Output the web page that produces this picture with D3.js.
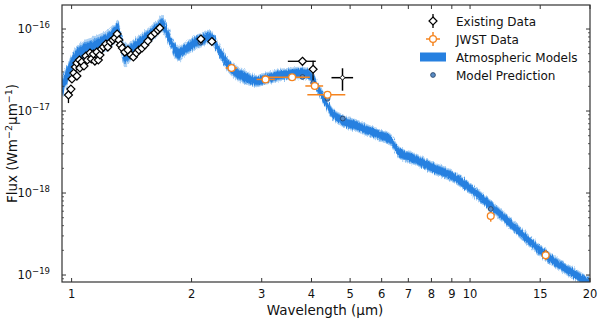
<!DOCTYPE html>
<html>
<head>
<meta charset="utf-8">
<script src="https://d3js.org/d3.v7.min.js"></script>
<style>
    body { margin: 0; background: #fff; }
    text { font-family: "DejaVu Sans", sans-serif; fill: #111; }
</style>
</head>
<body>
<div id="space"></div>
<script>

//Model spectrum (wavelength in um, flux in W m^-2 um^-1, spread in dex)
var bandWave = [0.946, 0.968, 0.990, 1.013, 1.037, 1.067, 1.099, 1.137, 1.178, 1.219,
    1.255, 1.284, 1.307, 1.322, 1.337, 1.360, 1.392, 1.433, 1.484, 1.536,
    1.590, 1.646, 1.685, 1.714, 1.745, 1.785, 1.826, 1.858, 1.913, 1.981,
    2.050, 2.123, 2.198, 2.249, 2.301, 2.355, 2.425, 2.495, 2.598, 2.721,
    2.834, 2.934, 3.038, 3.181, 3.332, 3.529, 3.739, 3.915, 4.030, 4.148,
    4.270, 4.395, 4.524, 4.711, 4.906, 5.137, 5.506, 5.935, 6.216, 6.362,
    6.511, 6.663, 7.060, 7.352, 8.062, 8.896, 9.98, 11.20, 12.36, 13.72,
    15.48, 16.79, 18.10, 20.0];
var bandFlux = [1.96e-17, 2.53e-17, 3.35e-17, 4.19e-17, 4.82e-17, 5.39e-17, 5.70e-17, 6.03e-17, 6.56e-17, 7.14e-17,
    7.99e-17, 9.19e-17, 1.00e-16, 8.21e-17, 6.03e-17, 4.82e-17, 5.10e-17, 5.86e-17, 6.75e-17, 7.77e-17,
    8.94e-17, 1.03e-16, 1.15e-16, 1.03e-16, 8.45e-17, 6.56e-17, 5.39e-17, 4.96e-17, 5.55e-17, 6.20e-17,
    6.94e-17, 7.34e-17, 7.99e-17, 7.77e-17, 6.56e-17, 5.24e-17, 4.19e-17, 3.44e-17, 2.91e-17, 2.60e-17,
    2.39e-17, 2.32e-17, 2.46e-17, 2.60e-17, 2.75e-17, 2.83e-17, 2.91e-17, 2.83e-17, 2.46e-17, 1.91e-17,
    1.48e-17, 1.15e-17, 9.19e-18, 7.99e-18, 7.14e-18, 6.75e-18, 5.86e-18, 5.10e-18, 4.69e-18, 4.31e-18,
    3.54e-18, 3.07e-18, 2.75e-18, 2.53e-18, 2.02e-18, 1.66e-18, 1.15e-18, 7.14e-19, 4.69e-19, 2.91e-19,
    1.75e-19, 1.32e-19, 1.06e-19, 7.77e-20];
var bandSpread = [0.11, 0.11, 0.10, 0.10, 0.10, 0.10, 0.10, 0.10, 0.10, 0.10,
    0.10, 0.09, 0.09, 0.10, 0.12, 0.12, 0.10, 0.09, 0.08, 0.08,
    0.08, 0.08, 0.08, 0.08, 0.08, 0.08, 0.08, 0.08, 0.07, 0.07,
    0.07, 0.07, 0.07, 0.07, 0.07, 0.07, 0.07, 0.07, 0.07, 0.07,
    0.06, 0.06, 0.06, 0.06, 0.06, 0.06, 0.06, 0.06, 0.06, 0.06,
    0.06, 0.06, 0.06, 0.06, 0.06, 0.06, 0.06, 0.06, 0.06, 0.06,
    0.06, 0.06, 0.06, 0.06, 0.06, 0.06, 0.06, 0.06, 0.06, 0.06,
    0.06, 0.06, 0.06, 0.06];

//Existing photometry / spectroscopy
var oldWave = [0.982, 0.996, 1.002, 1.013, 1.022, 1.031, 1.031, 1.046, 1.049, 1.061,
    1.074, 1.086, 1.095, 1.112, 1.121, 1.134, 1.144, 1.157, 1.167, 1.178,
    1.188, 1.202, 1.219, 1.233, 1.251, 1.269, 1.284, 1.301, 1.314, 1.326,
    1.341, 1.360, 1.384, 1.409, 1.429, 1.454, 1.475, 1.501, 1.527, 1.554,
    1.586, 1.618, 1.646, 1.665, 2.111, 2.249, 3.797, 4.037];
var oldFlux = [1.57e-17, 1.85e-17, 2.46e-17, 2.91e-17, 3.44e-17, 3.85e-17, 2.67e-17, 4.19e-17, 3.35e-17, 3.96e-17,
    3.54e-17, 4.69e-17, 4.19e-17, 5.10e-17, 4.31e-17, 4.96e-17, 4.07e-17, 5.24e-17, 4.19e-17, 4.82e-17,
    5.70e-17, 6.03e-17, 6.56e-17, 6.03e-17, 6.94e-17, 7.34e-17, 7.77e-17, 8.69e-17, 7.34e-17, 6.38e-17,
    5.86e-17, 5.24e-17, 5.55e-17, 4.82e-17, 4.56e-17, 5.10e-17, 5.55e-17, 5.86e-17, 6.38e-17, 7.14e-17,
    8.21e-17, 8.94e-17, 9.72e-17, 1.03e-16, 7.55e-17, 7.04e-17, 4.04e-17, 3.23e-17];
var oldFluxLo = [1.25e-17, 1.62e-17, 2.25e-17, 2.70e-17, 3.22e-17, 3.60e-17, 2.45e-17, 3.95e-17, 3.12e-17, 3.72e-17,
    3.32e-17, 4.45e-17, 3.95e-17, 4.86e-17, 4.08e-17, 4.72e-17, 3.84e-17, 5.00e-17, 3.96e-17, 4.60e-17,
    5.45e-17, 5.78e-17, 6.30e-17, 5.78e-17, 6.68e-17, 7.08e-17, 7.50e-17, 8.40e-17, 7.08e-17, 6.12e-17,
    5.62e-17, 5.00e-17, 5.30e-17, 4.60e-17, 4.34e-17, 4.86e-17, 5.30e-17, 5.62e-17, 6.12e-17, 6.86e-17,
    7.92e-17, 8.64e-17, 9.40e-17, 9.96e-17, 7.30e-17, 6.80e-17, 4.04e-17, 2.39e-17];
var oldFluxHi = [1.85e-17, 2.06e-17, 2.67e-17, 3.12e-17, 3.66e-17, 4.10e-17, 2.89e-17, 4.43e-17, 3.58e-17, 4.20e-17,
    3.76e-17, 4.93e-17, 4.43e-17, 5.34e-17, 4.54e-17, 5.20e-17, 4.30e-17, 5.48e-17, 4.42e-17, 5.04e-17,
    5.95e-17, 6.28e-17, 6.82e-17, 6.28e-17, 7.20e-17, 7.60e-17, 8.04e-17, 8.98e-17, 7.60e-17, 6.64e-17,
    6.10e-17, 5.48e-17, 5.80e-17, 5.04e-17, 4.78e-17, 5.34e-17, 5.80e-17, 6.10e-17, 6.64e-17, 7.42e-17,
    8.50e-17, 9.24e-17, 1.00e-16, 1.06e-16, 7.80e-17, 7.28e-17, 4.04e-17, 4.11e-17];
var oldWaveLo = [null, null, null, null, null, null, null, null, null, null,
    null, null, null, null, null, null, null, null, null, null,
    null, null, null, null, null, null, null, null, null, null,
    null, null, null, null, null, null, null, null, null, null,
    null, null, null, null, null, null, 3.489, null];
var oldWaveHi = [null, null, null, null, null, null, null, null, null, null,
    null, null, null, null, null, null, null, null, null, null,
    null, null, null, null, null, null, null, null, null, null,
    null, null, null, null, null, null, null, null, null, null,
    null, null, null, null, null, null, 4.101, null];

//Wide band point at 4.8 um (plotted as a cross)
var crossWave = [4.785];
var crossFlux = [2.55e-17];
var crossWaveLo = [4.490];
var crossWaveHi = [5.087];
var crossFluxLo = [1.77e-17];
var crossFluxHi = [3.32e-17];

//JWST photometry
var jwstWave = [2.520, 3.067, 3.576, 4.077, 4.388, 11.27, 15.48];
var jwstFlux = [3.35e-17, 2.43e-17, 2.58e-17, 2.02e-17, 1.58e-17, 5.24e-19, 1.74e-19];
var jwstWaveLo = [2.434, 2.912, 3.085, 3.860, 3.905, 11.27, 15.48];
var jwstWaveHi = [2.603, 3.236, 3.962, 4.278, 4.863, 11.27, 15.48];
var jwstFluxLo = [3.35e-17, 2.43e-17, 2.58e-17, 2.02e-17, 1.58e-17, 4.47e-19, 1.52e-19];
var jwstFluxHi = [3.35e-17, 2.43e-17, 2.58e-17, 2.02e-17, 1.58e-17, 5.65e-19, 2.02e-19];

//Model predictions in the JWST bands
var predWave = [2.105, 2.520, 3.797, 4.037, 4.388, 4.793, 11.27, 15.48];
var predFlux = [6.84e-17, 3.35e-17, 2.60e-17, 2.20e-17, 1.41e-17, 8.10e-18, 6.38e-19, 1.85e-19];

var xTicks = [1, 2, 3, 4, 5, 6, 7, 8, 9, 10, 15, 20];
var yTicks = [1e-19, 1e-18, 1e-17, 1e-16];
var yTickExp = ["−19", "−18", "−17", "−16"];

var legendLabels = ["Existing Data", "JWST Data", "Atmospheric Models", "Model Prediction"];

var svg, x, y;
var W = 600, H = 321;
var L = 62, R = 590, T = 5, B = 282;
var ORANGE = "#f5841f", BLUE = "#2680e0";

init();

function init()
{
    initSvg();

    x = d3.scaleLog().domain([0.946, 20]).range([L, R]);
    y = d3.scaleLog().domain([8.22e-20, 1.963e-16]).range([B, T]);

    drawBand();
    drawPredictions();
    drawJwst();
    drawExisting();
    drawAxes();
    drawLegend();
}

function initSvg() {
    svg = d3.select("#space").append("svg")
                             .attr("width", W)
                             .attr("height", H);

    var defs = svg.append("defs");
    defs.append("clipPath").attr("id", "plotClip")
        .append("rect").attr("x", L).attr("y", T).attr("width", R - L).attr("height", B - T);

    //Ragged edge for the model envelope
    var f = defs.append("filter").attr("id", "rough")
        .attr("x", "-2%").attr("y", "-10%").attr("width", "104%").attr("height", "120%");
    f.append("feTurbulence").attr("type", "fractalNoise")
        .attr("baseFrequency", "0.9 0.15").attr("numOctaves", 2).attr("seed", 3).attr("result", "noise");
    f.append("feDisplacementMap").attr("in", "SourceGraphic").attr("in2", "noise")
        .attr("scale", 4).attr("xChannelSelector", "R").attr("yChannelSelector", "G");

    svg.append("g").attr("id", "band").attr("clip-path", "url(#plotClip)");
    svg.append("g").attr("id", "dot").attr("clip-path", "url(#plotClip)");
    svg.append("g").attr("id", "axis");
    svg.append("g").attr("id", "legend");
}

function drawBand() {
    var pts = bandWave.map(function (w, i) {
        return { w: w, f: bandFlux[i], s: bandSpread[i] };
    });

    function envelope(k) {
        return d3.area()
            .x(function (d) { return x(d.w); })
            .y0(function (d) { return y(d.f * Math.pow(10, -d.s * k)); })
            .y1(function (d) { return y(d.f * Math.pow(10, d.s * k)); })
            .curve(d3.curveMonotoneX);
    }

    var g = svg.select("#band");
    //Outer haze, then the core
    g.append("path").datum(pts).attr("d", envelope(1.25))
        .attr("fill", "#9cc8f2").attr("opacity", 0.8).attr("filter", "url(#rough)");
    g.append("path").datum(pts).attr("d", envelope(0.95))
        .attr("fill", "#5aa2ea").attr("filter", "url(#rough)");
    g.append("path").datum(pts).attr("d", envelope(0.75))
        .attr("fill", BLUE).attr("filter", "url(#rough)");
}

function drawPredictions() {
    svg.select("#dot").selectAll("circle.pred")
        .data(predWave)
        .enter().append("circle")
        .attr("class", "pred")
        .attr("cx", function (d) { return x(d); })
        .attr("cy", function (d, i) { return y(predFlux[i]); })
        .attr("r", 2.4)
        .attr("fill", "#5a8cc4")
        .attr("stroke", "#233f63")
        .attr("stroke-width", 0.8);
}

function drawJwst() {
    var g = svg.select("#dot").append("g");
    jwstWave.forEach(function (w, i) {
        if (jwstWaveLo[i] != jwstWaveHi[i])
            g.append("line")
                .attr("x1", x(jwstWaveLo[i])).attr("x2", x(jwstWaveHi[i]))
                .attr("y1", y(jwstFlux[i])).attr("y2", y(jwstFlux[i]))
                .attr("stroke", ORANGE).attr("stroke-width", 1.5);
        if (jwstFluxLo[i] != jwstFluxHi[i])
            g.append("line")
                .attr("x1", x(w)).attr("x2", x(w))
                .attr("y1", y(jwstFluxLo[i])).attr("y2", y(jwstFluxHi[i]))
                .attr("stroke", ORANGE).attr("stroke-width", 1.5);
    });
    g.selectAll("circle")
        .data(jwstWave)
        .enter().append("circle")
        .attr("cx", function (d) { return x(d); })
        .attr("cy", function (d, i) { return y(jwstFlux[i]); })
        .attr("r", 3.4)
        .attr("fill", "white")
        .attr("stroke", ORANGE)
        .attr("stroke-width", 1.3);
}

function diamond(g, cx, cy, half) {
    return g.append("path")
        .attr("d", "M" + cx + "," + (cy - half) + "L" + (cx + half) + "," + cy +
                   "L" + cx + "," + (cy + half) + "L" + (cx - half) + "," + cy + "Z")
        .attr("fill", "white")
        .attr("stroke", "black")
        .attr("stroke-width", 1.2);
}

function drawExisting() {
    var g = svg.select("#dot").append("g");

    //Error bars
    oldWave.forEach(function (w, i) {
        g.append("line")
            .attr("x1", x(w)).attr("x2", x(w))
            .attr("y1", y(oldFluxLo[i])).attr("y2", y(oldFluxHi[i]))
            .attr("stroke", "black").attr("stroke-width", 1.3);
        if (oldWaveLo[i] != null)
            g.append("line")
                .attr("x1", x(oldWaveLo[i])).attr("x2", x(oldWaveHi[i]))
                .attr("y1", y(oldFlux[i])).attr("y2", y(oldFlux[i]))
                .attr("stroke", "black").attr("stroke-width", 1.3);
    });
    crossWave.forEach(function (w, i) {
        g.append("line")
            .attr("x1", x(crossWaveLo[i])).attr("x2", x(crossWaveHi[i]))
            .attr("y1", y(crossFlux[i])).attr("y2", y(crossFlux[i]))
            .attr("stroke", "black").attr("stroke-width", 1.5);
        g.append("line")
            .attr("x1", x(w)).attr("x2", x(w))
            .attr("y1", y(crossFluxLo[i])).attr("y2", y(crossFluxHi[i]))
            .attr("stroke", "black").attr("stroke-width", 1.5);
        diamond(g, x(w), y(crossFlux[i]), 2.5).attr("stroke-width", 1);
    });

    oldWave.forEach(function (w, i) {
        diamond(g, x(w), y(oldFlux[i]), 4);
    });
}

function drawAxes() {
    var g = svg.select("#axis");
    var tickColor = "#333";

    g.append("rect")
        .attr("x", L).attr("y", T).attr("width", R - L).attr("height", B - T)
        .attr("fill", "none").attr("stroke", tickColor).attr("stroke-width", 1.2);

    //x ticks, inward on bottom and top
    xTicks.forEach(function (t) {
        var px = x(t);
        g.append("line").attr("x1", px).attr("x2", px).attr("y1", B).attr("y2", B - 4)
            .attr("stroke", tickColor).attr("stroke-width", 1);
        g.append("line").attr("x1", px).attr("x2", px).attr("y1", T).attr("y2", T + 4)
            .attr("stroke", tickColor).attr("stroke-width", 1);
        g.append("text").attr("x", px).attr("y", B + 16)
            .attr("text-anchor", "middle").attr("font-size", 11.5).text(t);
    });

    //y minor ticks
    for (var e = -20; e <= -16; e++) {
        for (var k = 2; k <= 9; k++) {
            var v = k * Math.pow(10, e);
            if (v < y.domain()[0] || v > y.domain()[1]) continue;
            var py = y(v);
            g.append("line").attr("x1", L).attr("x2", L + 2).attr("y1", py).attr("y2", py)
                .attr("stroke", tickColor).attr("stroke-width", 0.8);
            g.append("line").attr("x1", R).attr("x2", R - 2).attr("y1", py).attr("y2", py)
                .attr("stroke", tickColor).attr("stroke-width", 0.8);
        }
    }

    //y major ticks with power labels
    yTicks.forEach(function (t, i) {
        var py = y(t);
        g.append("line").attr("x1", L).attr("x2", L + 4).attr("y1", py).attr("y2", py)
            .attr("stroke", tickColor).attr("stroke-width", 1);
        g.append("line").attr("x1", R).attr("x2", R - 4).attr("y1", py).attr("y2", py)
            .attr("stroke", tickColor).attr("stroke-width", 1);
        var lbl = g.append("text").attr("x", L - 12).attr("y", py + 4)
            .attr("text-anchor", "end").attr("font-size", 11.5);
        lbl.append("tspan").text("10");
        lbl.append("tspan").attr("dy", -5).attr("font-size", 8.5).text(yTickExp[i]);
    });

    //Axis titles
    g.append("text").attr("x", (L + R) / 2 - 1).attr("y", 315)
        .attr("text-anchor", "middle").attr("font-size", 13.5).text("Wavelength (µm)");

    var yl = g.append("text")
        .attr("transform", "translate(17," + ((T + B) / 2) + ") rotate(-90)")
        .attr("text-anchor", "middle").attr("font-size", 13.5);
    yl.append("tspan").text("Flux (Wm");
    yl.append("tspan").attr("dy", -5).attr("font-size", 9.5).text("−2");
    yl.append("tspan").attr("dy", 5).text("µm");
    yl.append("tspan").attr("dy", -5).attr("font-size", 9.5).text("−1");
    yl.append("tspan").attr("dy", 5).text(")");
}

function drawLegend() {
    var g = svg.select("#legend");
    var mx = 433, tx = 456, y0 = 21, dy = 18;

    //Existing Data
    g.append("line").attr("x1", mx).attr("x2", mx).attr("y1", y0 - 7).attr("y2", y0 + 7)
        .attr("stroke", "black").attr("stroke-width", 1.3);
    diamond(g, mx, y0, 4);

    //JWST Data
    var jy = y0 + dy;
    g.append("line").attr("x1", mx - 7).attr("x2", mx + 7).attr("y1", jy).attr("y2", jy)
        .attr("stroke", ORANGE).attr("stroke-width", 1.5);
    g.append("line").attr("x1", mx).attr("x2", mx).attr("y1", jy - 7).attr("y2", jy + 7)
        .attr("stroke", ORANGE).attr("stroke-width", 1.5);
    g.append("circle").attr("cx", mx).attr("cy", jy).attr("r", 3.4)
        .attr("fill", "white").attr("stroke", ORANGE).attr("stroke-width", 1.3);

    //Atmospheric Models
    g.append("rect").attr("x", 420).attr("y", y0 + 2 * dy - 4.5).attr("width", 26).attr("height", 9)
        .attr("fill", BLUE);

    //Model Prediction
    g.append("circle").attr("cx", mx).attr("cy", y0 + 3 * dy).attr("r", 2.4)
        .attr("fill", "#5a8cc4").attr("stroke", "#233f63").attr("stroke-width", 0.8);

    legendLabels.forEach(function (s, i) {
        g.append("text").attr("x", tx).attr("y", y0 + i * dy + 4.5)
            .attr("font-size", 12).text(s);
    });
}

</script>
</body>
</html>
